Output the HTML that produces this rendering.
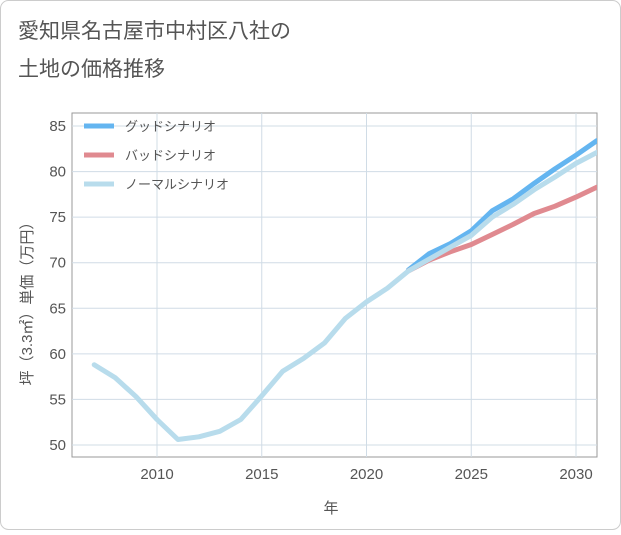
<!DOCTYPE html>
<html><head><meta charset="utf-8">
<style>
body{margin:0;background:#fff;}
#wrap{width:621px;height:530px;position:relative;font-family:"Liberation Sans","Noto Sans CJK JP",sans-serif;}
</style></head>
<body>
<div id="wrap">
<svg id="chart" width="621" height="530" xmlns="http://www.w3.org/2000/svg">
<defs><clipPath id="pc"><rect x="72" y="113" width="525" height="344"/></clipPath></defs>
<rect x="0.5" y="0.5" width="620" height="529" rx="8" fill="#fff" stroke="#ccc"/>
<text x="18" y="38" font-size="21" fill="#555" font-family="Liberation Sans,Noto Sans CJK JP,sans-serif">愛知県名古屋市中村区八社の</text>
<text x="18" y="76" font-size="21" fill="#555" font-family="Liberation Sans,Noto Sans CJK JP,sans-serif">土地の価格推移</text>
<g id="grid"></g>
<g id="series" clip-path="url(#pc)"></g>
<g id="legend"></g>
<text x="331" y="513" font-size="15" fill="#555" text-anchor="middle" font-family="Liberation Sans,Noto Sans CJK JP,sans-serif">年</text>
<text transform="translate(32,300) rotate(-90)" font-size="15" fill="#555" text-anchor="middle" font-family="Liberation Sans,Noto Sans CJK JP,sans-serif">坪（3.3㎡）単価（万円）</text>
</svg>
</div>
<script>
const years=[2007,2008,2009,2010,2011,2012,2013,2014,2015,2016,2017,2018,2019,2020,2021,2022,2023,2024,2025,2026,2027,2028,2029,2030,2031];
const normalValues=[58.8,57.4,55.3,52.8,50.6,50.9,51.5,52.8,55.4,58.1,59.5,61.2,63.9,65.7,67.2,69.1,70.4,71.7,73.0,75.0,76.4,78.0,79.4,80.9,82.1];
const goodYears=[2022,2023,2024,2025,2026,2027,2028,2029,2030,2031];
const goodValues=[69.2,71.0,72.1,73.5,75.7,77.0,78.7,80.3,81.8,83.4];
const badValues=[69.1,70.3,71.2,72.0,73.1,74.2,75.4,76.2,77.2,78.3];
const xTicks=[2010,2015,2020,2025,2030];
const yTicks=[50,55,60,65,70,75,80,85];
const NS="http://www.w3.org/2000/svg";
const L=72,R=597,T=113,B=457;
function xs(y){return 157+(y-2010)*20.95;}
function ys(v){return 445-(v-50)*9.114;}
function mk(tag,attrs,parent){const e=document.createElementNS(NS,tag);for(const k in attrs)e.setAttribute(k,attrs[k]);parent.appendChild(e);return e;}
const grid=document.getElementById('grid');
const bg=mk('rect',{x:L,y:T,width:R-L,height:B-T,fill:'#fff',stroke:'#999'},grid);


xTicks.forEach(t=>{
 const l=mk('line',{x1:xs(t),x2:xs(t),y1:T,y2:B,stroke:'#d0dce6'},grid);
 
 
 const tx=mk('text',{x:xs(t),y:B+22,'font-size':15,fill:'#555','text-anchor':'middle'},grid);
 tx.textContent=t;
 
 
});
yTicks.forEach(t=>{
 const l=mk('line',{x1:L,x2:R,y1:ys(t),y2:ys(t),stroke:'#d0dce6'},grid);
 
 
 const tx=mk('text',{x:L-6,y:ys(t)+5,'font-size':15,fill:'#555','text-anchor':'end'},grid);
 tx.textContent=t;
 
 
});
const ser=document.getElementById('series');
function line(xv,yv,color,name){
 const d=xv.map((x,i)=>(i?'L':'M')+xs(x).toFixed(1)+' '+ys(yv[i]).toFixed(1)).join(' ');
 const p=mk('path',{d:d,fill:'none',stroke:color,'stroke-width':5,'stroke-linejoin':'round','stroke-linecap':'round'},ser);
 
 
}
line(goodYears,goodValues,'#64b5f0','good-scenario-line');
line(goodYears,badValues,'#e08a90','bad-scenario-line');
line(years,normalValues,'#b8dcec','normal-scenario-line');
const lg=document.getElementById('legend');
[['グッドシナリオ','#64b5f0'],['バッドシナリオ','#e08a90'],['ノーマルシナリオ','#b8dcec']].forEach((e,i)=>{
 const y=126+i*29;
 const l=mk('line',{x1:84,x2:114,y1:y,y2:y,stroke:e[1],'stroke-width':5},lg);
 
 
 const t=mk('text',{x:125,y:y+5,'font-size':13,fill:'#555'},lg);
 t.textContent=e[0];
 
 
});
</script>
</body></html>
